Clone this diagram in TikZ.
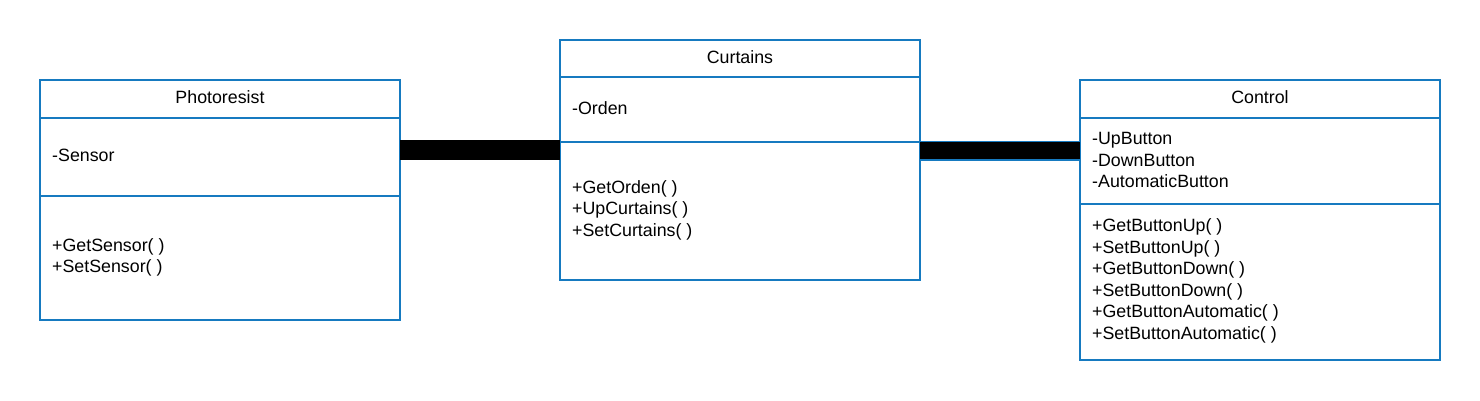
\documentclass[tikz,border=0pt]{standalone}
\usepackage{fontspec}
\setmainfont{Liberation Sans}
\definecolor{umlblue}{RGB}{22,122,192}
\begin{document}
\begin{tikzpicture}[x=1pt,y=-1pt,
  classbox/.style={draw=umlblue, line width=2pt, fill=white, inner sep=0pt, outer sep=0pt, anchor=north west},
  sepline/.style={draw=umlblue, line width=2pt},
  title/.style={font=\fontsize{17.8}{21.5}\selectfont, inner sep=0pt, anchor=center},
  body/.style={font=\fontsize{17.8}{21.5}\selectfont, inner sep=0pt, anchor=west, align=left},
  assoc/.style={line width=20pt, black},
  assocb/.style={draw=umlblue, line width=1.2pt, double=black, double distance=17.6pt}
]
\useasboundingbox (0,0) rectangle (1480,400);
% Photoresist
\node[classbox, minimum width=360pt, minimum height=240pt] (photo) at (40,80) {};
\draw[sepline] (40,118) -- (400,118);
\draw[sepline] (40,196) -- (400,196);
\node[title] (photoT) at (220,97) {Photoresist};
\node[body] (photoA) at (52,155.5) {-Sensor};
\node[body] (photoM) at (52,257.5) {+GetSensor( )\\+SetSensor( )};
% Curtains
\node[classbox, minimum width=360pt, minimum height=240pt] (curt) at (560,40) {};
\draw[sepline] (560,77) -- (920,77);
\draw[sepline] (560,142) -- (920,142);
\node[title] (curtT) at (740,57) {Curtains};
\node[body] (curtA) at (572,108.5) {-Orden};
\node[body] (curtM) at (572,210) {+GetOrden( )\\+UpCurtains( )\\+SetCurtains( )};
% Control
\node[classbox, minimum width=360pt, minimum height=280pt] (ctrl) at (1080,80) {};
\draw[sepline] (1080,118) -- (1440,118);
\draw[sepline] (1080,204) -- (1440,204);
\node[title] (ctrlT) at (1260,97) {Control};
\node[body] (ctrlA) at (1092,160) {-UpButton\\-DownButton\\-AutomaticButton};
\node[body] (ctrlM) at (1092,281) {+GetButtonUp( )\\+SetButtonUp( )\\+GetButtonDown( )\\+SetButtonDown( )\\+GetButtonAutomatic( )\\+SetButtonAutomatic( )};
% associations
\coordinate (a1) at (400,150);
\coordinate (a2) at (920,150.5);
\draw[assoc] (photo.east |- a1) -- (curt.west |- a1);
\draw[assocb] (curt.east |- a2) -- (ctrl.west |- a2);
\end{tikzpicture}
\end{document}
